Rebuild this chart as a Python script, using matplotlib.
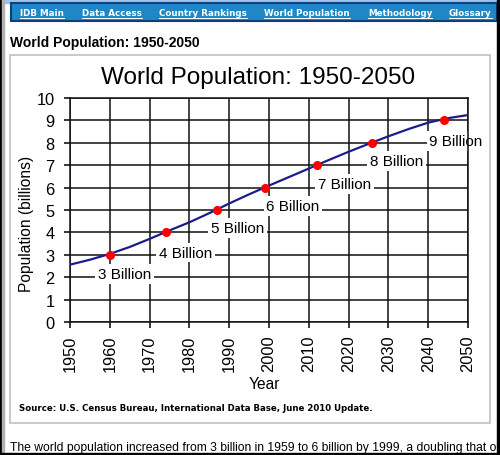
import matplotlib
matplotlib.use("Agg")
import matplotlib.pyplot as plt
from matplotlib.patches import Rectangle

plt.rcParams['font.family'] = ['Liberation Sans', 'DejaVu Sans']

# world population curve (billions)
years = [1950, 1955, 1960, 1965, 1970, 1975, 1980, 1985, 1990, 1995, 2000,
         2005, 2010, 2015, 2020, 2025, 2030, 2035, 2040, 2045, 2050]
population = [2.56, 2.78, 3.04, 3.35, 3.71, 4.09, 4.45, 4.86, 5.29, 5.70, 6.09,
              6.47, 6.85, 7.23, 7.60, 7.95, 8.29, 8.61, 8.90, 9.10, 9.24]

# billion milestones
milestone_years = [1960, 1974, 1987, 1999, 2012, 2026, 2044]
milestone_values = [3, 4, 5, 6, 7, 8, 9]
milestone_labels = ['3 Billion', '4 Billion', '5 Billion', '6 Billion',
                    '7 Billion', '8 Billion', '9 Billion']
label_years = [1963.6, 1979, 1992, 2006, 2019, 2032, 2047]
label_levels = [2.14, 3.1, 4.2, 5.18, 6.16, 7.19, 8.08]

x_ticks = list(range(1950, 2051, 10))
y_ticks = list(range(0, 11))

nav_items = ['IDB Main', 'Data Access', 'Country Rankings', 'World Population',
             'Methodology', 'Glossary']
nav_x = [20, 82, 159, 264, 368, 449]

W, H = 500, 456
fig = plt.figure(figsize=(W / 100, H / 100), dpi=100)

# page background drawn in pixel coords
page = fig.add_axes([0, 0, 1, 1])
page.set_xlim(0, W)
page.set_ylim(H, 0)
page.axis('off')

page.add_patch(Rectangle((0, 0), 2, H, color='black', zorder=5))
page.add_patch(Rectangle((2, 0), 1.5, H, color='#b0b0b0', zorder=5))
page.add_patch(Rectangle((497, 0), 3, H, color='black', zorder=5))
page.add_patch(Rectangle((0, 454), W, 2, color='black', zorder=5))
page.add_patch(Rectangle((3.5, 0), 493.5, 3.5, color='#9cc3ea'))
page.add_patch(Rectangle((10.5, 4), 486, 18, facecolor='#1f87c6',
                         edgecolor='#0d3f7c', lw=1.5))

renderer = fig.canvas.get_renderer()
for name, x in zip(nav_items, nav_x):
    t = page.text(x, 14, name, color='white', fontsize=6.3, fontweight='bold',
                  family='DejaVu Sans', va='center', ha='left')
    bb = t.get_window_extent(renderer)
    page.plot([bb.x0, bb.x1], [H - bb.y0 + 0.5, H - bb.y0 + 0.5],
              color='white', lw=0.7)

page.text(10, 43, 'World Population: 1950-2050', fontsize=10,
          fontweight='bold', va='center', ha='left')
page.add_patch(Rectangle((10, 56), 480, 368, facecolor='none',
                         edgecolor='#c0c0c0', lw=1.2))

page.text(258, 78, 'World Population: 1950-2050', fontsize=17.5,
          va='center', ha='center')
page.text(27, 224, 'Population (billions)', fontsize=11.2, rotation=90,
          va='center', ha='center')
page.text(264, 385, 'Year', fontsize=11.2, va='center', ha='center')
page.text(19, 409, 'Source: U.S. Census Bureau, International Data Base, June 2010 Update.',
          fontsize=6.2, fontweight='bold', family='DejaVu Sans',
          va='center', ha='left')
page.text(10, 448, 'The world population increased from 3 billion in 1959 to 6 billion '
          'by 1999, a doubling that occurred over 40 years.',
          fontsize=8.7, va='center', ha='left')

# the chart itself
ax = fig.add_axes([70 / W, 1 - 323 / H, 398 / W, 224 / H])
ax.set_xlim(1950, 2050)
ax.set_ylim(0, 10)
ax.set_xticks(x_ticks)
ax.set_yticks(y_ticks)
ax.set_xticklabels([str(v) for v in x_ticks], rotation=90)
ax.tick_params(axis='both', direction='out', length=4, width=1.1,
               labelsize=11.8, colors='black')
ax.tick_params(axis='x', pad=5)
ax.tick_params(axis='y', pad=7)
ax.grid(True, color='#111111', lw=1.1)
ax.set_axisbelow(True)
for s in ax.spines.values():
    s.set_color('#111111')
    s.set_linewidth(1.1)
ax.patch.set_alpha(0)

ax.plot(years, population, color='#1c1c8c', lw=1.6, zorder=3)
ax.plot(milestone_years, milestone_values, 'o', color='#ff0000', ms=5.5,
        zorder=4, clip_on=False)
for lab, lx, ly in zip(milestone_labels, label_years, label_levels):
    ax.text(lx, ly, lab, fontsize=11, ha='center', va='center', zorder=2.5,
            clip_on=False,
            bbox=dict(facecolor='white', edgecolor='none', pad=2))

fig.savefig('out.png', dpi=100)
